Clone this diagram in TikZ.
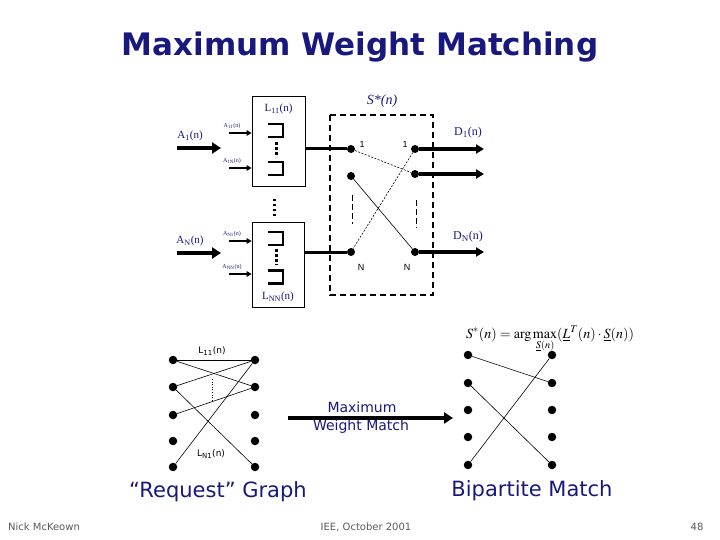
\documentclass[tikz,border=0pt]{standalone}
\usepackage{mathptmx}
\usepackage{fontspec}
\setmainfont{Liberation Serif}
\newfontfamily\comic{DejaVu Sans}
\newfontfamily\plainsans{Liberation Sans}
\usetikzlibrary{arrows.meta}
\definecolor{navy}{RGB}{25,25,125}
\definecolor{foot}{RGB}{90,90,90}
\tikzset{
  dot/.style={circle,fill=black,inner sep=0pt,minimum size=8pt},
  bdot/.style={circle,fill=black,inner sep=0pt,minimum size=8.5pt},
  thickarrow/.style={line width=4.5pt,-{Triangle[length=9pt,width=11pt]}},
  outarrow/.style={line width=3.2pt,-{Triangle[length=8pt,width=9pt]}},
  thinarrow/.style={line width=1.3pt,-{Triangle[length=5pt,width=5.5pt]}},
  lab/.style={inner sep=0pt,text=navy,font=\fontsize{11}{13}\selectfont},
  smalllab/.style={inner sep=0pt,text=navy,font=\fontsize{6}{7}\selectfont},
  numlab/.style={inner sep=0pt,font=\plainsans\fontsize{9}{10}\selectfont},
  qbox/.style={draw,line width=0.8pt,inner sep=0pt},
  edge/.style={line width=0.6pt},
  queue/.pic={\draw[line width=2.4pt] (-7.5,-6.5) -- (7.5,-6.5) -- (7.5,6.5) -- (-7.5,6.5);},
  qdots/.style={line width=3pt,dash pattern=on 3pt off 2pt},
  comiclab/.style={inner sep=0pt,text=navy,font=\comic\fontsize{#1}{#1}\selectfont},
}
\begin{document}
\begin{tikzpicture}[x=1pt,y=-1pt]
\useasboundingbox (0,0) rectangle (720,540);
\fill[white] (0,0) rectangle (720,540);

% title
\node[comiclab=31,font=\comic\bfseries\fontsize{31}{36}\selectfont] (title) at (360,47) {Maximum Weight Matching};

% ---- input queue boxes ----
\node[qbox,minimum width=53pt,minimum height=90pt] (L11) at (278.5,141) {};
\node[lab] (L11lab) at (278.5,109) {L\textsubscript{11}(n)};
\pic at (275.5,130.5) {queue};
\pic at (275.5,168.5) {queue};
\draw[qdots] (276,142) -- (276,157);

\node[qbox,minimum width=52pt,minimum height=85pt] (LNN) at (278,264.5) {};
\node[lab] (LNNlab) at (278,297) {L\textsubscript{NN}(n)};
\pic at (275.5,238.5) {queue};
\pic at (275.5,277) {queue};
\draw[qdots] (276,249) -- (276,265);

\draw[line width=3pt,dash pattern=on 2.5pt off 2.5pt] (274,199) -- (274,216);

% inputs
\coordinate (a1s) at (177,148); \coordinate (a1e) at (221,148);
\draw[thickarrow] (a1s) -- (a1e);
\node[lab] (A1lab) at (190,136) {A\textsubscript{1}(n)};
\coordinate (aNs) at (177,253); \coordinate (aNe) at (221,253);
\draw[thickarrow] (aNs) -- (aNe);
\node[lab] (ANlab) at (190,241) {A\textsubscript{N}(n)};

\coordinate (a11s) at (229,133);
\draw[thinarrow] (a11s) -- (L11.west |- a11s);
\node[smalllab] (A11lab) at (232,126) {A\textsubscript{11}(n)};
\coordinate (a1Ns) at (229,168);
\draw[thinarrow] (a1Ns) -- (L11.west |- a1Ns);
\node[smalllab] (A1Nlab) at (232,161) {A\textsubscript{1N}(n)};
\coordinate (aN1s) at (229,241);
\draw[thinarrow] (aN1s) -- (LNN.west |- aN1s);
\node[smalllab] (AN1lab) at (232,234) {A\textsubscript{N1}(n)};
\coordinate (aNNs) at (229,274);
\draw[thinarrow] (aNNs) -- (LNN.west |- aNNs);
\node[smalllab] (ANNlab) at (232,267) {A\textsubscript{NN}(n)};

% ---- switch ----
\draw[line width=1.5pt,dash pattern=on 6pt off 4pt] (330,115) rectangle (433,295);
\node[inner sep=0pt,text=navy,font=\itshape\fontsize{14}{16}\selectfont] (Slab) at (382,101) {S*(n)};

\node[dot] (s1) at (351,149) {};
\node[dot] (s2) at (351,176) {};
\node[dot] (sN) at (351,252) {};
\node[dot] (t1) at (415,149) {};
\node[dot] (t2) at (415,174) {};
\node[dot] (tN) at (415,252) {};

\node[numlab] at (362,144) {1};
\node[numlab] at (405,144) {1};
\node[numlab] at (361,267) {N};
\node[numlab] at (407,267) {N};

\draw[line width=3pt] (L11.east |- s1) -- (s1);
\draw[line width=3pt] (LNN.east |- sN) -- (sN);

\draw[edge,dash pattern=on 2pt off 1.5pt] (s1) -- (t2);
\draw[edge,dash pattern=on 2pt off 1.5pt] (t1) -- (sN);
\draw[edge] (s2) -- (tN);
\draw[line width=0.8pt,dash pattern=on 6pt off 3pt] (352,195) -- (352,224);
\draw[line width=0.8pt,dash pattern=on 6pt off 3pt] (416,200) -- (416,228);

\coordinate (o1) at (484,149);
\coordinate (o2) at (484,174);
\coordinate (oN) at (484,252);
\draw[outarrow] (t1) -- (o1);
\draw[outarrow] (t2) -- (o2);
\draw[outarrow] (tN) -- (oN);
\node[lab,font=\fontsize{12}{14}\selectfont] (D1lab) at (468,133) {D\textsubscript{1}(n)};
\node[lab,font=\fontsize{12}{14}\selectfont] (DNlab) at (468,237) {D\textsubscript{N}(n)};

% ---- formula ----
\node[inner sep=0pt,font=\fontsize{14}{16}\selectfont,anchor=north] (formula) at (550,326)
  {$S^{*}(n) = \arg\max\limits_{\underline{S}(n)}(\underline{L}^{T}(n)\cdot \underline{S}(n))$};

% ---- request graph ----
\foreach \i/\y in {1/360,2/387,3/415,4/441,5/467}{
  \node[bdot] (a\i) at (173,\y) {};
  \node[bdot] (b\i) at (255,\y) {};
}
\draw[edge] (a1) -- (b1);
\draw[edge] (a1) -- (b2);
\draw[edge] (a2) -- (b1);
\draw[edge] (a2) -- (b5);
\draw[edge] (a3) -- (b2);
\draw[edge] (a5) -- (b1);
\draw[line width=0.6pt,dotted] (212,379) -- (212,402);
\node[inner sep=0pt,font=\comic\fontsize{9}{10}\selectfont] (Lg11) at (212,351) {L\textsubscript{11}(n)};
\node[inner sep=0pt,font=\comic\fontsize{9}{10}\selectfont] (LgN1) at (211,454) {L\textsubscript{N1}(n)};

% ---- big arrow ----
\coordinate (ms) at (288,418);
\coordinate (me) at (453,418);
\draw[line width=3.5pt,-{Triangle[length=9pt,width=11pt]}] (ms) -- (me);
\node[comiclab=14] (mw1) at (362,407) {Maximum};
\node[comiclab=14] (mw2) at (361,427) {Weight Match};

% ---- bipartite match ----
\foreach \i/\y in {1/355,2/383,3/410,4/437,5/465}{
  \node[bdot] (c\i) at (468,\y) {};
  \node[bdot] (d\i) at (552,\y) {};
}
\draw[edge] (c1) -- (d2);
\draw[edge] (c2) -- (d5);
\draw[edge] (c5) -- (d1);

% ---- captions ----
\node[comiclab=21] (rg) at (218,492) {“Request” Graph};
\node[comiclab=21] (bm) at (532,491) {Bipartite Match};

% ---- footer ----
\node[inner sep=0pt,text=foot,font=\comic\fontsize{10}{12}\selectfont] (f1) at (44,527) {Nick McKeown};
\node[inner sep=0pt,text=foot,font=\comic\fontsize{10}{12}\selectfont] (f2) at (366,527) {IEE, October 2001};
\node[inner sep=0pt,text=foot,font=\comic\fontsize{10}{12}\selectfont] (f3) at (697,527) {48};
\end{tikzpicture}
\end{document}
